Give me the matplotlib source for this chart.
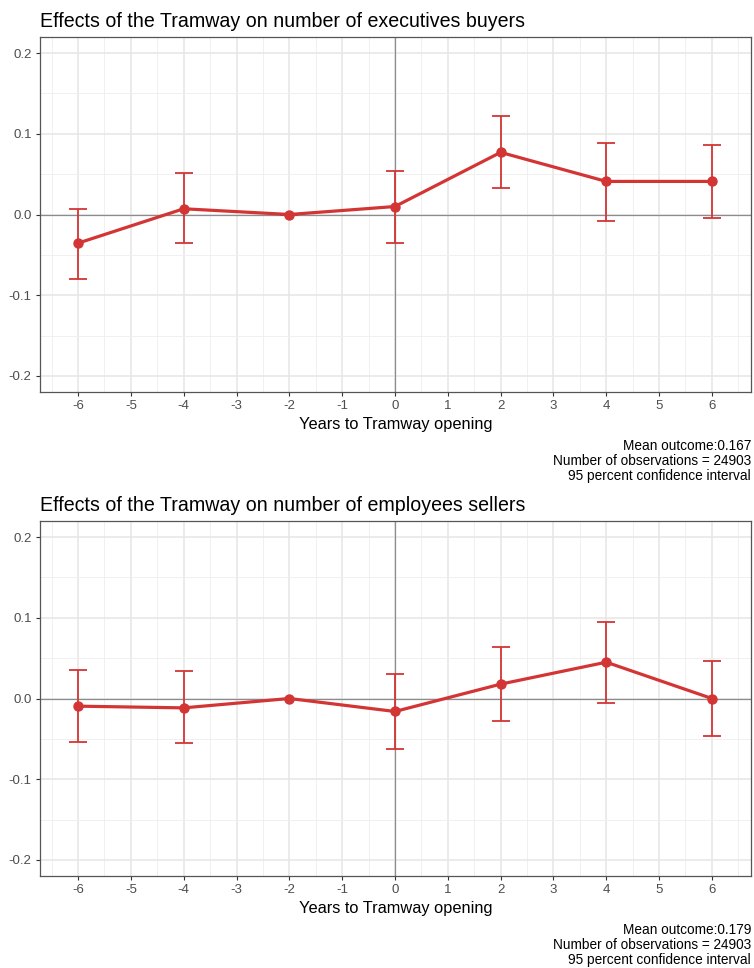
import numpy as np
import matplotlib
matplotlib.use("Agg")
import matplotlib.pyplot as plt

plt.rcParams['font.family'] = ['Liberation Sans', 'DejaVu Sans']
plt.rcParams['axes.unicode_minus'] = False

# data
years = [-6, -4, -2, 0, 2, 4, 6]

buyers_est = [-0.0355, 0.0071, 0.0, 0.0099, 0.077, 0.041, 0.041]
buyers_lo = [-0.080, -0.0355, 0.0, -0.035, 0.0326, -0.0083, -0.0046]
buyers_hi = [0.007, 0.051, 0.0, 0.0545, 0.122, 0.089, 0.0863]

sellers_est = [-0.0095, -0.0116, 0.0, -0.0161, 0.0178, 0.045, 0.0]
sellers_lo = [-0.0537, -0.0554, 0.0, -0.0624, -0.0285, -0.0054, -0.047]
sellers_hi = [0.0355, 0.0335, 0.0, 0.030, 0.064, 0.095, 0.046]

titles = ["Effects of the Tramway on number of executives buyers",
          "Effects of the Tramway on number of employees sellers"]
captions = ["Mean outcome:0.167\nNumber of observations = 24903\n95 percent confidence interval",
            "Mean outcome:0.179\nNumber of observations = 24903\n95 percent confidence interval"]

red = '#d33535'
W, H = 754, 968
fig = plt.figure(figsize=(W / 100, H / 100), dpi=100)

# axes boxes in pixels: left, top, right, bottom
boxes = [(40, 37, 751, 392), (40, 521, 751, 876)]
panels = [(buyers_est, buyers_lo, buyers_hi), (sellers_est, sellers_lo, sellers_hi)]

for (l, t, r, b), (est, lo, hi), title, cap in zip(boxes, panels, titles, captions):
    ax = fig.add_axes([l / W, 1 - b / H, (r - l) / W, (b - t) / H])
    est = np.array(est)
    yerr = [est - np.array(lo), np.array(hi) - est]

    ax.set_xlim(-6.72, 6.74)
    ax.set_ylim(-0.22, 0.22)
    ax.set_xticks(range(-6, 7))
    ax.set_xticks(np.arange(-6.5, 7, 1), minor=True)
    ax.set_yticks([-0.2, -0.1, 0.0, 0.1, 0.2])
    ax.set_yticks([-0.15, -0.05, 0.05, 0.15], minor=True)
    ax.set_yticklabels(['-0.2', '-0.1', '0.0', '0.1', '0.2'])
    ax.grid(which='major', color='#e6e6e6', lw=1.1)
    ax.grid(which='minor', color='#f0f0f0', lw=0.7)
    ax.set_axisbelow(True)
    ax.tick_params(which='minor', length=0)
    ax.tick_params(which='major', length=3, width=0.8, color='#333333',
                   labelsize=9.5, labelcolor='#4d4d4d', pad=3)
    for s in ax.spines.values():
        s.set_color('#555555')
        s.set_linewidth(0.9)

    ax.axhline(0, color='#8c8c8c', lw=0.9, zorder=1)
    ax.axvline(0, color='#8c8c8c', lw=0.9, zorder=1)

    ax.errorbar(years, est, yerr=yerr, fmt='none', ecolor=red, elinewidth=1.3,
                capsize=6.5, capthick=1.3, zorder=3)
    ax.plot(years, est, color=red, lw=2.3, marker='o', ms=6.5, zorder=4)

    ax.set_title(title, loc='left', fontsize=14.1, pad=7)
    ax.set_xlabel("Years to Tramway opening", fontsize=11.8, labelpad=3)
    ax.text(1.0, -0.132, cap, transform=ax.transAxes, ha='right', va='top',
            fontsize=9.8, linespacing=1.08)

fig.savefig("out.png", dpi=100)
